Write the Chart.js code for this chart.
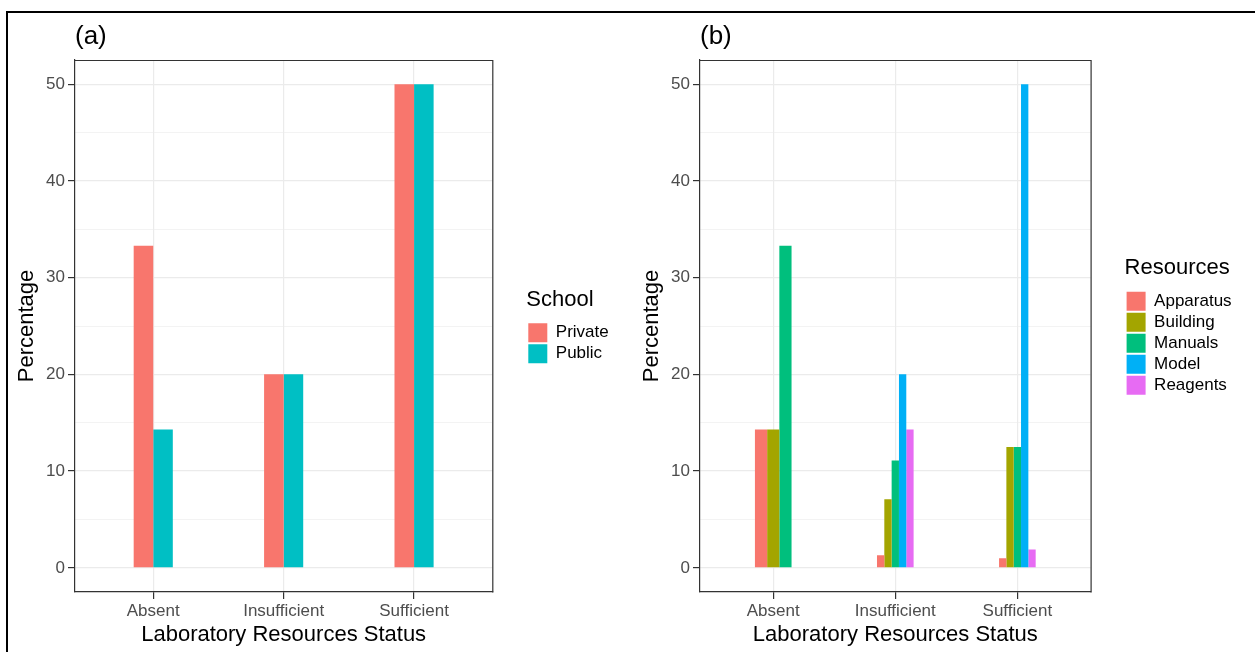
<!DOCTYPE html>
<html>
<head>
<meta charset="utf-8">
<script src="https://cdn.jsdelivr.net/npm/chart.js@4.4.1/dist/chart.umd.min.js"></script>
<style>
  html, body { margin: 0; padding: 0; background: #fff; }
  body { width: 1255px; height: 652px; position: relative; overflow: hidden; }
  .frame { position: absolute; left: 6px; top: 11px; width: 1300px; height: 700px;
           border-top: 2px solid #000; border-left: 2px solid #000; }
  canvas { position: absolute; top: 0; }
  #chartA { left: 0; }
  #chartB { left: 625px; }
</style>
</head>
<body>
<div class="frame"></div>
<canvas id="chartA" width="625" height="652"></canvas>
<canvas id="chartB" width="630" height="652"></canvas>
<script>
// categories and ticks
const statusLabels = ['Absent', 'Insufficient', 'Sufficient'];
const yGridValues = [0, 5, 10, 15, 20, 25, 30, 35, 40, 45, 50];
const yTickLabels = [0, 10, 20, 30, 40, 50];

// panel (a): school type
const schoolNames = ['Private', 'Public'];
const privateValues = [33.3, 20, 50];
const publicValues = [14.3, 20, 50];
const schoolColors = ['#F8766D', '#00BFC4'];

// panel (b): resource type (null = no bar in that group)
const resourceNames = ['Apparatus', 'Building', 'Manuals', 'Model', 'Reagents'];
const apparatusValues = [14.3, 1.3, 1.0];
const buildingValues = [14.3, 7.1, 12.5];
const manualsValues = [33.3, 11.1, 12.5];
const modelValues = [null, 20, 50];
const reagentsValues = [null, 14.3, 1.9];
const resourceColors = ['#F8766D', '#A3A500', '#00BF7D', '#00B0F6', '#E76BF3'];

Chart.defaults.font.family = "'Liberation Sans', Arial, sans-serif";

// panel tag "(a)"/"(b)" plus the top and right edges of the panel box
const panelDecor = {
  id: 'panelDecor',
  afterDraw(chart, args, opts) {
    const ctx = chart.ctx;
    const { left, right, top, bottom } = chart.chartArea;
    ctx.save();
    ctx.strokeStyle = '#333333';
    ctx.lineWidth = 1.2;
    ctx.beginPath();
    ctx.moveTo(left - 1, top + 0.5);
    ctx.lineTo(right + 0.5, top + 0.5);
    ctx.lineTo(right + 0.5, bottom + 0.5);
    ctx.stroke();
    ctx.font = "26px 'Liberation Sans', Arial, sans-serif";
    ctx.fillStyle = '#000';
    ctx.textAlign = 'left';
    ctx.textBaseline = 'middle';
    ctx.fillText(opts.text, left, 37);
    ctx.restore();
  }
};

const isMajor = c => c.tick && yTickLabels.includes(c.tick.value);

function makeChart(id, panelText, legendTitle, names, series, colors, plotRight) {
  const datasets = names.map((name, i) => ({
    label: name,
    data: series[i].map((v, j) => ({ x: j + 1, y: v })),
    backgroundColor: colors[i],
    borderWidth: 0
  }));

  const chart = new Chart(document.getElementById(id), {
    type: 'bar',
    data: { datasets },
    plugins: [panelDecor],
    options: {
      responsive: false,
      animation: false,
      layout: { padding: { top: 60, right: 10, bottom: 0, left: 0 } },
      datasets: { bar: { skipNull: true, categoryPercentage: 0.3, barPercentage: 1 } },
      scales: {
        x: {
          type: 'linear', min: 0.4, max: 3.6, offset: false,
          afterBuildTicks: s => { s.ticks = statusLabels.map((_, i) => ({ value: i + 1 })); },
          afterFit: s => { s.height = 60; },
          grid: { offset: false, color: '#EBEBEB', lineWidth: 1.2, tickColor: '#333333', tickLength: 7, tickWidth: 1.2 },
          border: { color: '#333333', width: 1.2 },
          ticks: {
            color: '#4D4D4D', font: { size: 17 }, padding: 2, maxRotation: 0, autoSkip: false,
            callback: v => statusLabels[Math.round(v) - 1]
          },
          title: {
            display: true, text: 'Laboratory Resources Status', color: '#000',
            font: { size: 22 }, padding: { top: 0, bottom: 4 }
          }
        },
        y: {
          type: 'linear', min: -2.5, max: 52.5,
          afterBuildTicks: s => { s.ticks = yGridValues.map(v => ({ value: v })); },
          afterFit: s => { s.width = 75; },
          grid: {
            color: '#EBEBEB',
            lineWidth: c => isMajor(c) ? 1.2 : 0.6,
            tickColor: c => isMajor(c) ? '#333333' : 'rgba(0,0,0,0)',
            tickLength: 7, tickWidth: 1.2
          },
          border: { color: '#333333', width: 1.2 },
          ticks: {
            color: '#4D4D4D', font: { size: 17 }, padding: 3, autoSkip: false,
            callback: v => yTickLabels.includes(v) ? String(v) : ''
          },
          title: {
            display: true, text: 'Percentage', color: '#000',
            font: { size: 22 }, padding: { top: 14, bottom: 0 }
          }
        },
        // hidden spacer between the panel and the legend
        gap: {
          type: 'linear', position: 'right', display: false,
          afterFit: s => { s.width = 34; }
        }
      },
      plugins: {
        tooltip: { enabled: false },
        panelDecor: { text: panelText },
        legend: {
          position: 'right', align: 'center', fullSize: false,
          title: {
            display: true, text: legendTitle, color: '#000', position: 'start',
            font: { size: 22 }, padding: { top: 2, bottom: 6 }
          },
          labels: { boxWidth: 19, boxHeight: 19, padding: 2, color: '#000', font: { size: 17 } }
        }
      }
    }
  });

  // shift the right padding so the panel ends where the reference panel ends
  chart.options.layout.padding.right += chart.chartArea.right - plotRight;
  chart.update();
  return chart;
}

makeChart('chartA', '(a)', 'School', schoolNames,
  [privateValues, publicValues], schoolColors, 492.3);

makeChart('chartB', '(b)', 'Resources', resourceNames,
  [apparatusValues, buildingValues, manualsValues, modelValues, reagentsValues],
  resourceColors, 465.6);
</script>
</body>
</html>
